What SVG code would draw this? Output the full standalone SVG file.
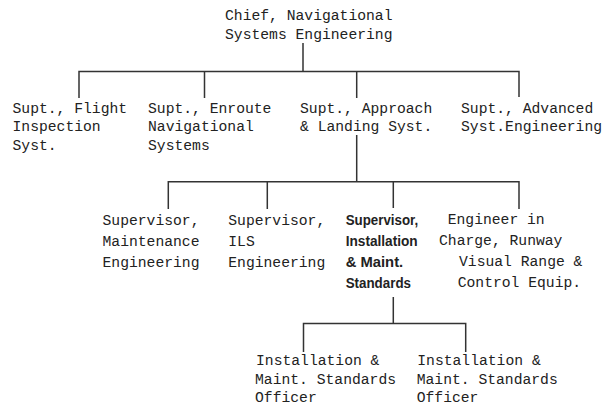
<svg xmlns="http://www.w3.org/2000/svg" width="608" height="411" viewBox="0 0 608 411">
<style>
.t{font-family:"Liberation Mono","DejaVu Sans Mono",monospace;font-size:14.7px;fill:#222}
.b{font-family:"Liberation Sans","Arial",sans-serif;font-size:14px;font-weight:bold;fill:#222}
.c{stroke:#333;stroke-width:1.5;fill:none}
</style>
<rect width="608" height="411" fill="#fff"/>
<g id="connectors" class="c">
<path d="M303 43V71.5M79 98V71.5H519V97M204.5 71.5V98M356.7 71.5V98"/>
<path d="M356.7 135V181.7M168.3 209V181.7H519V209M267.3 181.7V209M393.3 181.7V208"/>
<path d="M393.3 297V323.5M303.5 352V323.5H465.7V352"/>
</g>
<g id="chief"><text class="t" x="225" y="20">Chief, Navigational</text><text class="t" x="225" y="38.5">Systems Engineering</text></g>
<g id="flight"><text class="t" x="12.5" y="113">Supt., Flight</text><text class="t" x="12.5" y="131.3">Inspection</text><text class="t" x="12.5" y="149.6">Syst.</text></g>
<g id="enroute"><text class="t" x="148" y="113">Supt., Enroute</text><text class="t" x="148" y="131.3">Navigational</text><text class="t" x="148" y="149.6">Systems</text></g>
<g id="approach"><text class="t" x="300" y="113">Supt., Approach</text><text class="t" x="300" y="131.3">&amp; Landing Syst.</text></g>
<g id="advanced"><text class="t" x="461" y="113">Supt., Advanced</text><text class="t" x="461" y="131.3">Syst.Engineering</text></g>
<g id="maint"><text class="t" x="102.5" y="224.5">Supervisor,</text><text class="t" x="102.5" y="245.5">Maintenance</text><text class="t" x="102.5" y="266.5">Engineering</text></g>
<g id="ils"><text class="t" x="228.3" y="224.5">Supervisor,</text><text class="t" x="228.3" y="245.5">ILS</text><text class="t" x="228.3" y="266.5">Engineering</text></g>
<g id="install"><text class="b" x="345.7" y="224.5" textLength="72.5" lengthAdjust="spacingAndGlyphs">Supervisor,</text><text class="b" x="345.7" y="245.5" textLength="72" lengthAdjust="spacingAndGlyphs">Installation</text><text class="b" x="345.7" y="266.5" textLength="57.5" lengthAdjust="spacingAndGlyphs">&amp; Maint.</text><text class="b" x="345.7" y="287.5" textLength="65.3" lengthAdjust="spacingAndGlyphs">Standards</text></g>
<g id="runway"><text class="t" x="447.7" y="223.5">Engineer in</text><text class="t" x="439" y="244.5">Charge, Runway</text><text class="t" x="459" y="265.5">Visual Range &amp;</text><text class="t" x="457.7" y="286.5">Control Equip.</text></g>
<g id="officer1"><text class="t" x="256" y="365">Installation &amp;</text><text class="t" x="255" y="383.5">Maint. Standards</text><text class="t" x="255" y="402">Officer</text></g>
<g id="officer2"><text class="t" x="417.3" y="365">Installation &amp;</text><text class="t" x="416.7" y="383.5">Maint. Standards</text><text class="t" x="416.7" y="402">Officer</text></g>
</svg>
